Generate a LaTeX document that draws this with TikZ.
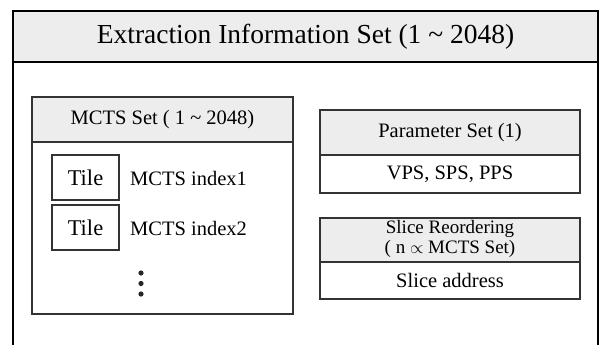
\documentclass[tikz,border=0pt]{standalone}
\usepackage{fontspec}
\setmainfont{Liberation Serif}
\usetikzlibrary{calc, positioning}

\begin{document}
\begin{tikzpicture}[x=1pt,y=-1pt,
  outerline/.style={line width=2.2pt,black},
  boxline/.style={line width=1.4pt,black!80},
  headfill/.style={fill=black!7},
  bodytext/.style={font=\fontsize{20.5}{20.5}\selectfont,inner sep=0pt,align=center},
  tiletext/.style={font=\fontsize{22.5}{24}\selectfont,inner sep=0pt}]
\useasboundingbox (0,0) rectangle (601,345);

% outer frame
\coordinate (OTL) at (13,11);
\coordinate (OTR) at (598,11);
\coordinate (OHL) at (13,62);
\coordinate (OHR) at (598,62);
\fill[headfill] (OTL) rectangle (OHR);
\draw[outerline] (13,345) -- (OTL) -- (OTR) -- (598,345);
\draw[outerline] (OHL) -- (OHR);
\node[font=\fontsize{27.5}{30}\selectfont,inner sep=0pt] (title)
  at ($(OTL)!0.5!(OHR)$) {Extraction Information Set (1 \textasciitilde{} 2048)};

% MCTS set
\coordinate (MTL) at (32,97);
\coordinate (MHR) at (293,142);
\coordinate (MBR) at (293,314);
\fill[headfill] (MTL) rectangle (MHR);
\draw[boxline] (MTL) rectangle (MBR);
\draw[boxline] (32,142) -- (MHR);
\node[bodytext] (mctshead) at ($(MTL)!0.5!(MHR)$) {MCTS Set ( 1 \textasciitilde{} 2048)};
\draw[boxline] (52,155) rectangle (119,200);
\draw[boxline] (52,205) rectangle (119,250);
\node[tiletext] (tile1) at (85.5,178) {Tile};
\node[tiletext] (tile2) at (85.5,228) {Tile};
\node[bodytext,anchor=west] (index1) at (130,178) {MCTS index1};
\node[bodytext,anchor=west] (index2) at (130,228) {MCTS index2};
\foreach \y in {273,283.5,294}{
  \fill[black!85] (141,\y) circle (2.6pt);
}

% parameter set
\coordinate (PTL) at (320,110);
\coordinate (PHR) at (580,155);
\coordinate (PBR) at (580,193);
\fill[headfill] (PTL) rectangle (PHR);
\draw[boxline] (PTL) rectangle (PBR);
\draw[boxline] (320,155) -- (PHR);
\node[bodytext] (paramhead) at ($(PTL)!0.5!(PHR)$) {Parameter Set (1)};
\node[bodytext] (paramsets) at (450,174) {VPS, SPS, PPS};

% slice reordering
\coordinate (STL) at (320,218);
\coordinate (SHR) at (580,262);
\coordinate (SBR) at (580,299);
\fill[headfill] (STL) rectangle (SHR);
\draw[boxline] (STL) rectangle (SBR);
\draw[boxline] (320,262) -- (SHR);
\node[bodytext,font=\fontsize{19}{20}\selectfont] (slicehead) at (450,229) {Slice Reordering};
\node[bodytext,font=\fontsize{19}{20}\selectfont,below=2.5pt of slicehead] (sliceratio)
  {( n $\propto$ MCTS Set)};
\node[bodytext] (sliceaddr) at (450,280.5) {Slice address};
\end{tikzpicture}
\end{document}
